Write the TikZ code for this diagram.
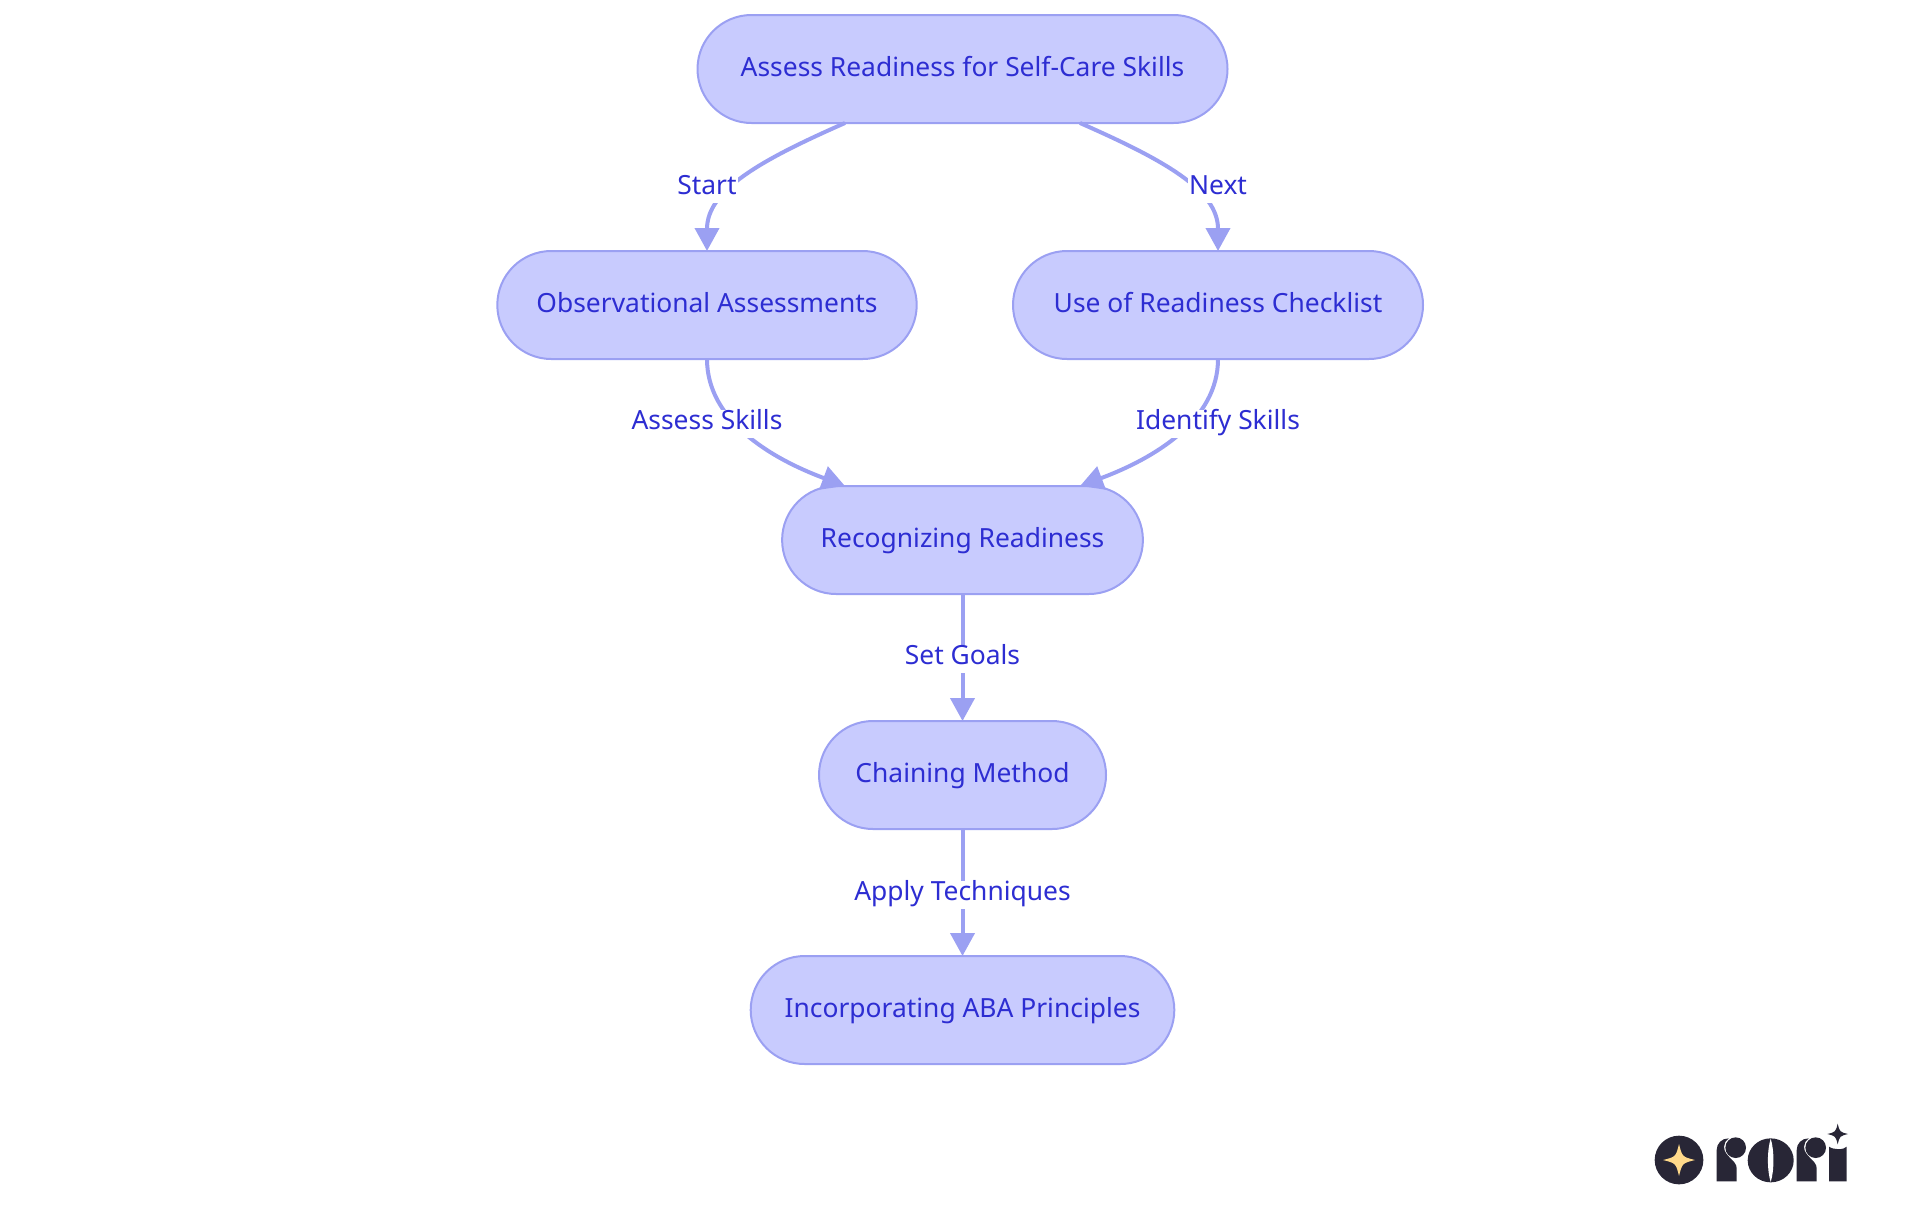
\documentclass[tikz,border=0pt]{standalone}
\usepackage{fontspec}
\setmainfont{Noto Sans}
\usetikzlibrary{arrows.meta,calc}
\definecolor{pillfill}{RGB}{200,203,254}
\definecolor{pillline}{RGB}{155,160,242}
\definecolor{pilltext}{RGB}{45,45,210}
\definecolor{logodark}{RGB}{40,38,54}
\definecolor{logostar}{RGB}{255,217,138}
\tikzset{
    pill/.style={
        rectangle,
        draw=pillline,
        fill=pillfill,
        line width=1pt,
        rounded corners=27pt,
        minimum height=54pt,
        outer sep=0pt,
        text=pilltext,
        text height=9.5pt,
        text depth=1.6pt,
        font=\fontsize{13.2pt}{15pt}\selectfont
    },
    edgelabel/.style={
        fill=white,
        text=pilltext,
        inner xsep=0.5pt,
        inner ysep=0.5pt,
        text height=9.5pt,
        text depth=3.5pt,
        font=\fontsize{13.2pt}{15pt}\selectfont
    },
    flow/.style={
        draw=pillline,
        line width=2pt,
        -{Triangle[length=11.5pt,width=12pt]}
    }
}
% four pointed star: x, y, radius
\newcommand{\sparkle}[3]{
    (#1+#3,#2) .. controls (#1+0.2*#3,#2+0.2*#3) .. (#1,#2+#3)
    .. controls (#1-0.2*#3,#2+0.2*#3) .. (#1-#3,#2)
    .. controls (#1-0.2*#3,#2-0.2*#3) .. (#1,#2-#3)
    .. controls (#1+0.2*#3,#2-0.2*#3) .. (#1+#3,#2) -- cycle
}
\begin{document}
\begin{tikzpicture}[x=0.5pt,y=-0.5pt]
    \useasboundingbox (0,0) rectangle (1920,1215);

    \node[pill, minimum width=265pt] (assess) at (962.5,69) {Assess Readiness for Self-Care Skills};
    \node[pill, minimum width=209.7pt] (observe) at (707,305) {Observational Assessments};
    \node[pill, minimum width=205pt] (checklist) at (1218,305) {Use of Readiness Checklist};
    \node[pill, minimum width=180.4pt] (recognize) at (962.5,540) {Recognizing Readiness};
    \node[pill, minimum width=143.5pt] (chaining) at (962.5,775) {Chaining Method};
    \node[pill, minimum width=211.8pt] (principles) at (962.5,1010) {Incorporating ABA Principles};

    \draw[flow] ($(assess.south)+(-117.5,0)$) .. controls (761,160) and (707,190) .. (observe.north);
    \draw[flow] ($(assess.south)+(117.5,0)$) .. controls (1164,160) and (1218,190) .. (checklist.north);
    \draw[flow] (observe.south) .. controls (707,420) and (770,458) .. ($(recognize.north)+(-117.5,0)$);
    \draw[flow] (checklist.south) .. controls (1218,420) and (1155,458) .. ($(recognize.north)+(117.5,0)$);
    \draw[flow] (recognize.south) -- (chaining.north);
    \draw[flow] (chaining.south) -- (principles.north);

    \node[edgelabel] (start) at (707,188.5) {Start};
    \node[edgelabel] (next) at (1218,188.5) {Next};
    \node[edgelabel] (skills) at (707,423.5) {Assess Skills};
    \node[edgelabel] (identify) at (1218,423.5) {Identify Skills};
    \node[edgelabel] (goals) at (962.5,658.5) {Set Goals};
    \node[edgelabel] (apply) at (962.5,894.5) {Apply Techniques};

    % logo
    \begin{scope}[shift={(1620,1100)},x=0.16667pt,y=-0.16667pt]
        \fill[logodark] (177,180) circle (73);
        \fill[logostar] \sparkle{177}{180}{48};
        \foreach \x in {0,240} {
            \fill[logodark] (290+\x,244) -- (350+\x,244) -- (350+\x,205)
                .. controls (350+\x,180) and (312+\x,170) .. (312+\x,140)
                .. controls (312+\x,130) and (318+\x,120) .. (326+\x,115)
                .. controls (305+\x,115) and (290+\x,130) .. (290+\x,150) -- cycle;
            \fill[logodark] (347+\x,143) circle (31);
        }
        \fill[logodark] (452,181) ellipse (69 and 66);
        \fill[white] (452,116) .. controls (441,150) and (441,212) .. (452,246)
            .. controls (463,212) and (463,150) .. (452,116) -- cycle;
        \fill[logodark] (627,244) -- (680,244) -- (680,140)
            .. controls (672,150) and (640,150) .. (627,140) -- cycle;
        \fill[logodark] \sparkle{653}{102}{31};
    \end{scope}
\end{tikzpicture}
\end{document}
